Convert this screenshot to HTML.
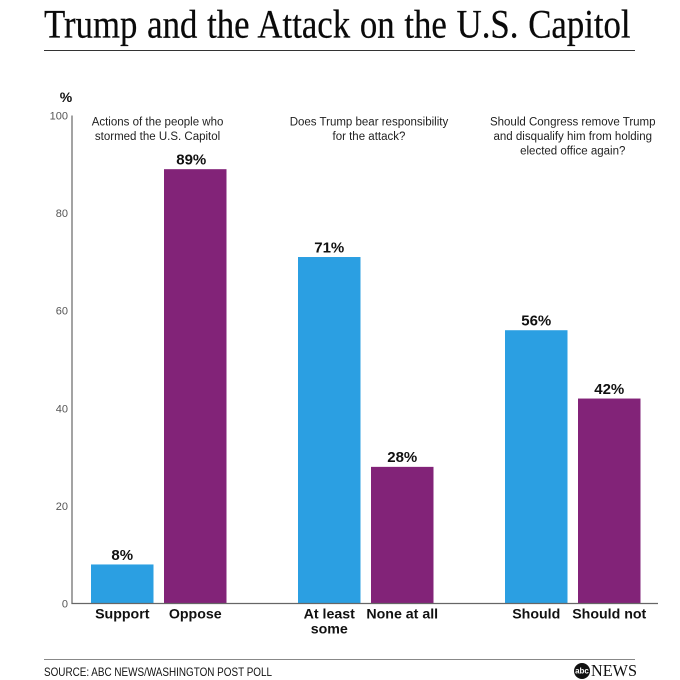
<!DOCTYPE html>
<html lang="en">
<head>
<meta charset="utf-8">
<title>Trump and the Attack on the U.S. Capitol</title>
<style>
html,body{margin:0;padding:0;background:#fff;width:680px;height:680px;overflow:hidden}
svg{display:block;font-family:"Liberation Sans",sans-serif}
</style>
</head>
<body>
<svg id="chart" width="680" height="680" viewBox="0 0 680 680" xmlns="http://www.w3.org/2000/svg">
  <text transform="translate(44,37.5) scale(0.869,1)" font-family="'Liberation Serif',serif" font-size="40" fill="#0a0a0a" stroke="#0a0a0a" stroke-width="0.25" word-spacing="1.25">Trump and the Attack on the U.S. Capitol</text>
  <line x1="44" y1="50.5" x2="635" y2="50.5" stroke="#333" stroke-width="1"/>
  <text x="66" y="102" text-anchor="middle" font-size="14" font-weight="bold" fill="#111">%</text>
  <g id="plot"></g>
  <line x1="44" y1="659.5" x2="635" y2="659.5" stroke="#888" stroke-width="1"/>
  <text x="44" y="676" font-size="12" fill="#111" textLength="228" lengthAdjust="spacingAndGlyphs">SOURCE: ABC NEWS/WASHINGTON POST POLL</text>
  <g>
    <circle cx="582" cy="671" r="8" fill="#111"/>
    <text x="582" y="673.5" text-anchor="middle" font-size="8" font-weight="bold" fill="#fff">abc</text>
    <text x="591" y="676" font-family="'Liberation Serif',serif" font-size="17" fill="#111" textLength="46" lengthAdjust="spacingAndGlyphs">NEWS</text>
  </g>
</svg>
<script>
const categories = ["Support", "Oppose", "At least|some", "None at all", "Should", "Should not"];
const seriesValues = [8, 89, 71, 28, 56, 42];
const valueLabels = ["8%", "89%", "71%", "28%", "56%", "42%"];
const yTicks = [0, 20, 40, 60, 80, 100];
const groupTitles = [
  "Actions of the people who|stormed the U.S. Capitol",
  "Does Trump bear responsibility|for the attack?",
  "Should Congress remove Trump|and disqualify him from holding|elected office again?"
];

const NS = "http://www.w3.org/2000/svg";
const plot = document.getElementById("plot");
const y0 = 603.5, yTop = 115.5, axisX = 72, axisEnd = 658;
const barW = 62.5, firstBar = 91, pairStep = 73, groupStep = 207;
function yScale(v) { return y0 - (v / 100) * (y0 - yTop); }
function barX(i) { const g = Math.floor(i / 2); return firstBar + g * groupStep + (i % 2) * pairStep; }
function titleShift(g) { return g === 0 ? -1.2 : g === 1 ? 3.2 : 0; }
function labelShift(i) { return i === 1 ? -4 : 0; }
function make(tag, attrs, text) {
  const el = document.createElementNS(NS, tag);
  for (const k in attrs) el.setAttribute(k, attrs[k]);
  if (text !== undefined) el.textContent = text;
  plot.appendChild(el);
  return el;
}
const colors = ["#2b9fe2", "#822378"];

yTicks.forEach(function (t) {
  const el = make("text", { x: 68, y: yScale(t) + 4, "text-anchor": "end", "font-size": 11, fill: "#555" }, String(t));
  
  
});

groupTitles.forEach(function (title, g) {
  const cx = firstBar + g * groupStep + (pairStep + barW) / 2 + titleShift(g);
  title.split("|").forEach(function (line, j) {
    const el = make("text", { x: cx, y: 125.7 + j * 14.3, "text-anchor": "middle", "font-size": 11.5, fill: "#222" }, line);
    
    
  });
});

seriesValues.forEach(function (v, i) {
  const x = barX(i), y = yScale(v);
  const bar = make("rect", { x: x, y: y, width: barW, height: y0 - y, fill: colors[i % 2] });
  
  
  const cx = x + barW / 2;
  const val = make("text", { x: cx + labelShift(i), y: y - 4.7, "text-anchor": "middle", "font-size": 15, "font-weight": "bold", fill: "#111" }, valueLabels[i]);
  
  
  categories[i].split("|").forEach(function (line, j) {
    const lab = make("text", { x: cx, y: 618.7 + j * 14.6, "text-anchor": "middle", "font-size": 14.2, "font-weight": "bold", fill: "#111" }, line);
    
    
  });
});

const yAxis = make("line", { x1: axisX, y1: yTop, x2: axisX, y2: y0, stroke: "#666", "stroke-width": 1.2 });


const xAxis = make("line", { x1: axisX - 0.6, y1: y0, x2: axisEnd, y2: y0, stroke: "#666", "stroke-width": 1.2 });


</script>
</body>
</html>
